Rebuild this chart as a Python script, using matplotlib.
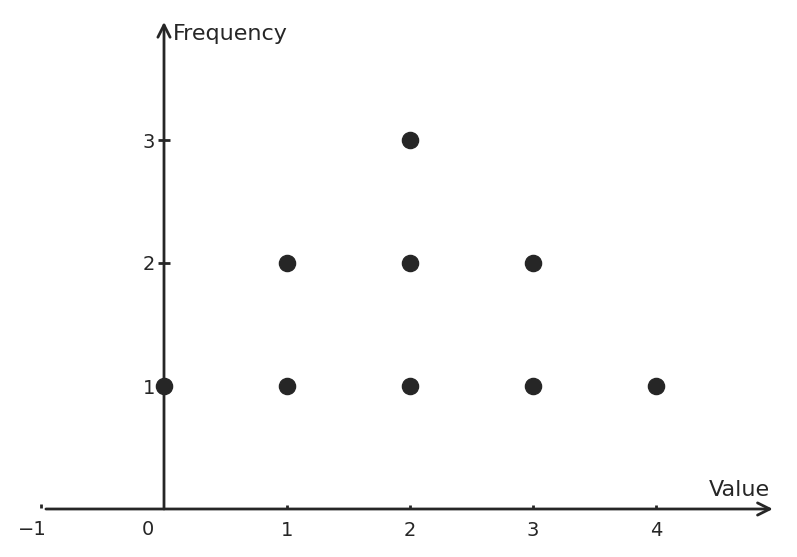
import matplotlib
matplotlib.use("Agg")
import matplotlib.pyplot as plt

# dot plot data: one dot per observation stacked by count
values = [0, 1, 1, 2, 2, 2, 3, 3, 4]
counts = [1, 1, 2, 1, 2, 3, 1, 2, 1]
x_ticks = [-1, 0, 1, 2, 3, 4]
y_ticks = [1, 2, 3]

ink = "#262626"

fig = plt.figure(figsize=(7.97, 5.57), dpi=100)
W, H = 797, 557
x0_px, y0_px, unit = 164, 509, 123
xlim = (-1.2, 5.0)
ylim = (-0.3, 4.0)
left = (x0_px + unit * xlim[0]) / W
width = unit * (xlim[1] - xlim[0]) / W
bottom = (H - (y0_px - unit * ylim[0])) / H
height = unit * (ylim[1] - ylim[0]) / H
ax = fig.add_axes([left, bottom, width, height])
ax.set_xlim(*xlim)
ax.set_ylim(*ylim)

for s in ax.spines.values():
    s.set_visible(False)
ax.spines['bottom'].set_position(('data', 0))
ax.spines['left'].set_position(('data', 0))

# axis arrows
arrow = dict(arrowstyle="->", color=ink, lw=2, mutation_scale=22, shrinkA=0, shrinkB=0)
ax.annotate("", xy=(4.95, 0), xytext=(-0.96, 0), arrowprops=arrow)
ax.annotate("", xy=(0, 3.96), xytext=(0, 0), arrowprops=arrow)

ax.scatter(values, counts, s=135, color=ink, zorder=5, clip_on=False)

ax.set_xticks([t for t in x_ticks if t not in (-1, 0)])
ax.set_yticks(y_ticks)
ax.tick_params(axis='x', direction='in', length=3, width=2, colors=ink,
               labelsize=14, pad=9)
ax.tick_params(axis='y', direction='inout', length=9, width=2, colors=ink,
               labelsize=14, pad=2)

# -1 tick and the labels that sit off-centre
ax.plot([-1, -1], [0.01, 0.04], color=ink, lw=2, solid_capstyle='butt')
ax.annotate("\u22121", xy=(-1, 0), xytext=(-9, -11), textcoords='offset pixels',
            ha='center', va='top', fontsize=14, color=ink)
ax.annotate("0", xy=(0, 0), xytext=(-16, -11), textcoords='offset pixels',
            ha='center', va='top', fontsize=14, color=ink)

ax.annotate("Frequency", xy=(0, 3.96), xytext=(9, -2), textcoords='offset pixels',
            ha='left', va='top', fontsize=16, color=ink)
ax.annotate("Value", xy=(4.95, 0), xytext=(-3, 9), textcoords='offset pixels',
            ha='right', va='bottom', fontsize=16, color=ink)

fig.savefig("out.png", dpi=100)
